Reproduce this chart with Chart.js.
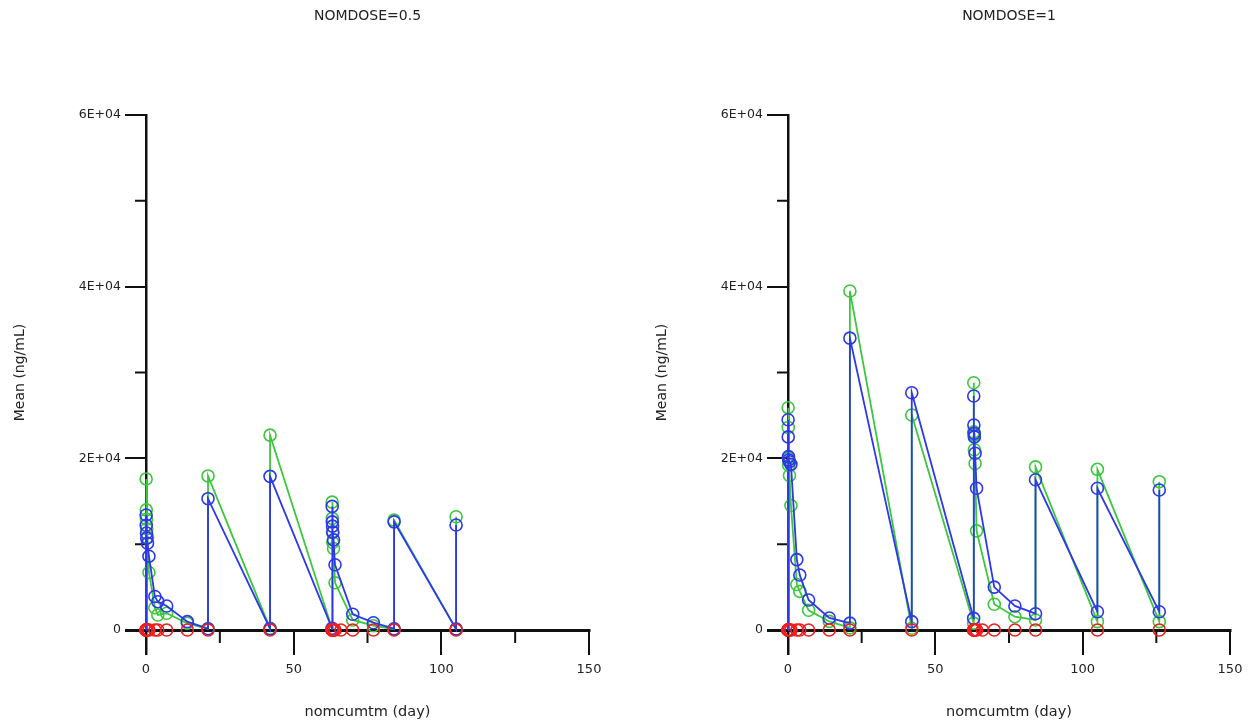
<!DOCTYPE html>
<html>
<head>
<meta charset="utf-8">
<script src="https://cdn.jsdelivr.net/npm/chart.js@4.4.1/dist/chart.umd.min.js"></script>
<style>
    html, body { margin: 0; padding: 0; background: #fff; }
    #wrap { position: relative; width: 1253px; height: 726px; overflow: hidden; }
    .panel { position: absolute; top: 0; height: 726px; }
    #panel-low { left: 0; width: 626px; }
    #panel-high { left: 642px; width: 611px; }
</style>
</head>
<body>
<div id="wrap">
    <div class="panel" id="panel-low"><canvas id="chart-low"></canvas></div>
    <div class="panel" id="panel-high"><canvas id="chart-high"></canvas></div>
</div>
<script>
// --- Data: NOMDOSE=0.5 ---
const timesLow = [0, 0.04, 0.08, 0.17, 0.25, 0.5, 1, 3, 4, 7, 14, 21, 21, 42, 42, 63, 63.04, 63.08, 63.17, 63.25, 63.5, 64, 70, 77, 84, 84, 105, 105];
const greenLow = [0, 17600, 14000, 12900, 11800, 10800, 6700, 2600, 1750, 1950, 780, 150, 17950, 200, 22700, 150, 14900, 13000, 11400, 10200, 9500, 5500, 1170, 500, 100, 12800, 100, 13200];
const blueLow  = [0, 13400, 12200, 11300, 10700, 10100, 8600, 3900, 3300, 2800, 970, 150, 15300, 150, 17900, 200, 14400, 12600, 12100, 11400, 10500, 7600, 1830, 850, 150, 12600, 100, 12230];
const redTimesLow = [0, 0.04, 0.08, 0.17, 0.25, 0.5, 1, 3, 4, 7, 14, 21, 42, 63, 63.04, 63.08, 63.17, 63.25, 63.5, 64, 66, 70, 77, 84, 105];
const redLow      = [0, 0, 0, 0, 0, 0, 0, 0, 0, 0, 0, 0, 0, 0, 0, 0, 0, 0, 0, 0, 0, 0, 0, 0, 0];

// --- Data: NOMDOSE=1 ---
const timesHigh = [0, 0.04, 0.08, 0.17, 0.25, 0.5, 1, 3, 4, 7, 14, 21, 21, 42, 42, 63, 63.04, 63.08, 63.17, 63.25, 63.5, 64, 70, 77, 84, 84, 105, 105, 126, 126];
const greenHigh = [0, 25900, 23600, 20000, 19200, 18000, 14500, 5300, 4500, 2300, 1000, 250, 39500, 200, 25050, 800, 28800, 23100, 22700, 21000, 19400, 11550, 3000, 1550, 1170, 19000, 970, 18720, 970, 17280];
const blueHigh  = [0, 24500, 22500, 20200, 19800, 19600, 19300, 8200, 6400, 3500, 1400, 800, 34000, 970, 27640, 1360, 27260, 23880, 22910, 22500, 20590, 16510, 5000, 2800, 1900, 17500, 2130, 16510, 2130, 16310];
const redTimesHigh = [0, 0.04, 0.08, 0.17, 0.25, 0.5, 1, 3, 4, 7, 14, 21, 42, 63, 63.04, 63.08, 63.17, 63.25, 63.5, 64, 66, 70, 77, 84, 105, 126];
const redHigh      = [0, 0, 0, 0, 0, 0, 0, 0, 0, 0, 0, 0, 0, 0, 0, 0, 0, 0, 0, 0, 0, 0, 0, 0, 0, 0];

// --- Axes ---
const xMajorStep = 50;
const xMinorTicks = [25, 75, 125];
const yMajorStep = 20000;
const yMinorTicks = [10000, 30000, 50000];

const GREEN = 'rgb(60, 200, 60)';
const BLUE = 'rgb(45, 55, 235)';
const RED = 'rgb(240, 30, 30)';
const AXIS = '#111';
const TEXT = '#222';

Chart.defaults.font.family = "'DejaVu Sans', sans-serif";
Chart.defaults.color = TEXT;

const toPoints = (xs, ys) => xs.map((x, i) => ({ x: x, y: ys[i] }));

const formatY = (v) => v === 0 ? '0' : (v / 10000) + 'E+04';

// short minor ticks, placed through the scales
const minorTicks = {
    id: 'minorTicks',
    beforeDatasetsDraw(chart) {
        const { ctx, scales: { x, y } } = chart;
        const x0 = x.getPixelForValue(0);
        const y0 = y.getPixelForValue(0);
        ctx.save();
        ctx.strokeStyle = AXIS;
        ctx.lineWidth = 2;
        ctx.beginPath();
        yMinorTicks.forEach(v => {
            const py = y.getPixelForValue(v);
            ctx.moveTo(x0 - 11, py);
            ctx.lineTo(x0, py);
        });
        xMinorTicks.forEach(v => {
            const px = x.getPixelForValue(v);
            ctx.moveTo(px, y0);
            ctx.lineTo(px, y0 + 13);
        });
        ctx.stroke();
        ctx.restore();
    }
};

function series(label, data, color, withLine) {
    return {
        label: label,
        data: data,
        showLine: withLine,
        borderColor: color,
        borderWidth: 1.8,
        pointRadius: 6,
        pointBorderWidth: 1.6,
        pointBackgroundColor: 'rgba(0,0,0,0)',
        pointBorderColor: color,
        tension: 0,
        clip: false
    };
}

function buildChart(canvasId, titleText, times, green, blue, redTimes, red, padRight) {
    const ctx = document.getElementById(canvasId).getContext('2d');
    return new Chart(ctx, {
        type: 'scatter',
        data: {
            datasets: [
                // red sits on the zero line, its joining line is hidden by the axis
                series('red', toPoints(redTimes, red), RED, false),
                series('blue', toPoints(times, blue), BLUE, true),
                series('green', toPoints(times, green), GREEN, true)
            ]
        },
        options: {
            responsive: true,
            maintainAspectRatio: false,
            animation: false,
            layout: { padding: { left: 0, right: padRight, top: 0, bottom: 0 } },
            plugins: {
                legend: { display: false },
                tooltip: { enabled: false },
                title: { display: false }
            },
            scales: {
                // panel heading, centred over the plot area
                xTop: {
                    type: 'linear',
                    position: 'top',
                    min: 0,
                    max: 150,
                    ticks: { display: false },
                    grid: { display: false, drawTicks: false },
                    border: { display: false },
                    title: {
                        display: true,
                        text: titleText,
                        color: TEXT,
                        font: { size: 14 },
                        padding: { top: 8, bottom: 0 }
                    },
                    afterFit: (s) => { s.height = 115; }
                },
                x: {
                    type: 'linear',
                    min: 0,
                    max: 150,
                    ticks: { stepSize: xMajorStep, padding: 7, font: { size: 13 }, color: TEXT, maxRotation: 0 },
                    grid: {
                        drawOnChartArea: false,
                        drawTicks: true,
                        tickLength: 25,
                        color: AXIS,
                        lineWidth: (c) => c.tick && c.tick.value === 0 ? 2.5 : 2
                    },
                    border: { display: true, color: AXIS, width: 3 },
                    title: {
                        display: true,
                        text: 'nomcumtm (day)',
                        color: TEXT,
                        font: { size: 14.5 },
                        padding: { top: 0, bottom: 5 }
                    },
                    afterFit: (s) => { s.height = 96; }
                },
                y: {
                    type: 'linear',
                    min: 0,
                    max: 60000,
                    ticks: { stepSize: yMajorStep, padding: 4, font: { size: 12.5 }, color: TEXT, callback: formatY },
                    grid: {
                        drawOnChartArea: false,
                        drawTicks: true,
                        tickLength: 21,
                        color: AXIS,
                        lineWidth: (c) => c.tick && c.tick.value === 0 ? 3 : 2
                    },
                    border: { display: true, color: AXIS, width: 2.5 },
                    title: {
                        display: true,
                        text: 'Mean (ng/mL)',
                        color: TEXT,
                        font: { size: 14 },
                        padding: { top: 12, bottom: 0 }
                    },
                    afterFit: (s) => { s.width = 146; }
                }
            }
        },
        plugins: [minorTicks]
    });
}

buildChart('chart-low', 'NOMDOSE=0.5', timesLow, greenLow, blueLow, redTimesLow, redLow, 37);
buildChart('chart-high', 'NOMDOSE=1', timesHigh, greenHigh, blueHigh, redTimesHigh, redHigh, 23);
</script>
</body>
</html>
